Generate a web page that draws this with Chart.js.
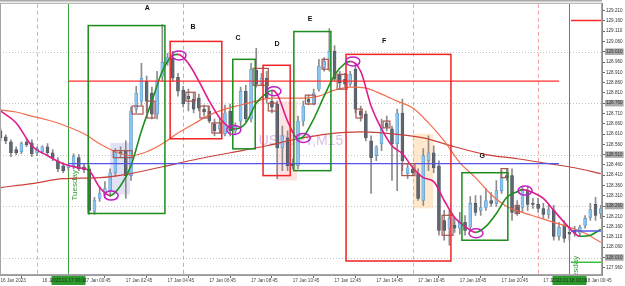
<!DOCTYPE html>
<html>
<head>
<meta charset="utf-8">
<script src="https://cdn.jsdelivr.net/npm/chart.js@4.4.0/dist/chart.umd.min.js"></script>
<style>
  html, body { margin: 0; padding: 0; background: #fff; }
</style>
</head>
<body>
<canvas id="usdjpy" width="625" height="286"></canvas>
<script>
// M15 bars, bar 0 = 2023.01.17 00:00, first visible bar = 16 Jan 20:45
const firstBar = -13;

const opens = [
  128.625, 128.596, 128.572, 128.534, 128.524, 128.572, 128.567, 128.519, 128.524, 128.548,
  128.519, 128.480, 128.456, 128.446, 128.456, 128.495, 128.451, 128.441, 128.234, 128.297,
  128.316, 128.335, 128.422, 128.524, 128.529, 128.408, 128.731, 128.770, 128.867, 128.809,
  128.707, 128.891, 128.958, 128.978, 128.886, 128.823, 128.794, 128.780, 128.785, 128.731,
  128.722, 128.659, 128.635, 128.611, 128.722, 128.625, 128.673, 128.818, 128.683, 128.920,
  128.857, 128.881, 128.770, 128.756, 128.543, 128.591, 128.466, 128.456, 128.673, 128.780,
  128.760, 128.828, 128.934, 128.925, 129.012, 128.896, 128.876, 128.852, 128.925, 128.722,
  128.707, 128.577, 128.505, 128.563, 128.664, 128.635, 128.563, 128.712, 128.418, 128.441,
  128.418, 128.287, 128.480, 128.519, 128.456, 128.190, 128.152, 128.166, 128.152, 128.181,
  128.157, 128.273, 128.239, 128.253, 128.287, 128.273, 128.335, 128.408, 128.408, 128.258,
  128.253, 128.335, 128.273, 128.268, 128.248, 128.219, 128.239, 128.113, 128.166, 128.132,
  128.142, 128.128, 128.166, 128.205, 128.268, 128.224
];
const highs = [
  128.639, 128.606, 128.582, 128.548, 128.572, 128.587, 128.582, 128.548, 128.553, 128.563,
  128.534, 128.495, 128.471, 128.461, 128.514, 128.510, 128.466, 128.456, 128.302, 128.355,
  128.379, 128.441, 128.539, 128.548, 128.577, 128.741, 128.842, 128.953, 128.891, 128.838,
  128.915, 129.142, 129.002, 129.012, 128.905, 128.842, 128.828, 128.809, 128.804, 128.751,
  128.746, 128.683, 128.683, 128.751, 128.756, 128.664, 128.838, 128.847, 128.953, 129.026,
  128.905, 128.915, 128.818, 128.770, 128.649, 128.625, 128.490, 128.697, 128.770, 128.799,
  128.828, 128.973, 128.982, 129.122, 129.040, 128.915, 128.905, 128.915, 128.953, 128.746,
  128.722, 128.601, 128.553, 128.683, 128.697, 128.649, 128.731, 128.780, 128.466, 128.456,
  128.441, 128.539, 128.601, 128.553, 128.480, 128.239, 128.239, 128.200, 128.229, 128.214,
  128.306, 128.311, 128.311, 128.345, 128.326, 128.384, 128.432, 128.441, 128.441, 128.287,
  128.355, 128.355, 128.297, 128.297, 128.273, 128.263, 128.263, 128.181, 128.190, 128.152,
  128.161, 128.166, 128.214, 128.273, 128.302, 128.263
];
const lows = [
  128.577, 128.563, 128.500, 128.510, 128.514, 128.548, 128.500, 128.505, 128.514, 128.505,
  128.480, 128.427, 128.422, 128.432, 128.441, 128.432, 128.422, 128.219, 128.219, 128.282,
  128.302, 128.306, 128.403, 128.495, 128.297, 128.384, 128.712, 128.751, 128.712, 128.683,
  128.683, 128.867, 128.944, 128.867, 128.794, 128.741, 128.722, 128.712, 128.722, 128.697,
  128.664, 128.601, 128.615, 128.601, 128.601, 128.606, 128.644, 128.669, 128.669, 128.838,
  128.847, 128.760, 128.712, 128.393, 128.432, 128.432, 128.441, 128.441, 128.649, 128.751,
  128.751, 128.818, 128.915, 128.915, 128.867, 128.828, 128.838, 128.842, 128.712, 128.673,
  128.577, 128.321, 128.480, 128.529, 128.625, 128.384, 128.335, 128.432, 128.393, 128.408,
  128.287, 128.263, 128.432, 128.422, 128.118, 128.094, 128.070, 128.132, 128.123, 128.118,
  128.142, 128.214, 128.214, 128.239, 128.258, 128.258, 128.321, 128.384, 128.190, 128.214,
  128.229, 128.239, 128.248, 128.229, 128.200, 128.200, 128.094, 128.094, 128.084, 128.094,
  128.113, 128.113, 128.152, 128.190, 128.190, 128.200
];
const closes = [
  128.591, 128.577, 128.519, 128.519, 128.563, 128.558, 128.514, 128.539, 128.548, 128.519,
  128.495, 128.441, 128.432, 128.456, 128.500, 128.441, 128.437, 128.239, 128.287, 128.321,
  128.345, 128.422, 128.519, 128.514, 128.408, 128.722, 128.809, 128.881, 128.770, 128.707,
  128.867, 128.958, 128.982, 128.881, 128.818, 128.756, 128.780, 128.731, 128.736, 128.717,
  128.673, 128.625, 128.654, 128.712, 128.625, 128.649, 128.818, 128.683, 128.925, 128.852,
  128.881, 128.784, 128.741, 128.543, 128.601, 128.456, 128.456, 128.673, 128.746, 128.765,
  128.809, 128.939, 128.963, 129.012, 128.876, 128.857, 128.852, 128.900, 128.731, 128.702,
  128.591, 128.495, 128.548, 128.649, 128.644, 128.563, 128.712, 128.480, 128.446, 128.422,
  128.297, 128.505, 128.519, 128.446, 128.142, 128.142, 128.200, 128.152, 128.190, 128.142,
  128.273, 128.229, 128.253, 128.287, 128.273, 128.335, 128.398, 128.398, 128.229, 128.229,
  128.335, 128.268, 128.268, 128.248, 128.219, 128.243, 128.113, 128.157, 128.103, 128.123,
  128.128, 128.157, 128.200, 128.243, 128.214, 128.248
];

// moving averages at these bars
const fastBars = [-13, -10, -7, -4, -1, 2, 4, 6, 8, 10, 12, 14, 16, 18, 20, 21, 23, 25, 27, 29,
  31, 32, 34, 36, 38, 39, 40, 42, 44, 45, 47, 49, 51, 53, 54, 56, 58, 60, 62, 64,
  66, 68, 70, 72, 74, 76, 78, 80, 82, 84, 86, 87, 89, 91, 93, 95, 97, 98, 100, 102];
const fastMA = [128.722, 128.664, 128.553, 128.505, 128.466, 128.446, 128.432, 128.350, 128.311, 128.359,
  128.456, 128.625, 128.770, 128.915, 128.992, 128.997, 128.953, 128.867, 128.770, 128.688,
  128.640, 128.635, 128.664, 128.760, 128.809, 128.823, 128.804, 128.673, 128.587, 128.596,
  128.683, 128.794, 128.896, 128.953, 128.963, 128.915, 128.746, 128.635, 128.553, 128.514,
  128.446, 128.398, 128.379, 128.287, 128.205, 128.161, 128.132, 128.161, 128.224, 128.302,
  128.330, 128.340, 128.326, 128.297, 128.239, 128.181, 128.128, 128.113, 128.118, 128.147];

const midBars = [-13, -10, -7, -4, -1, 3, 6, 9, 12, 15, 18, 21, 24, 27, 30, 33, 36, 39, 42, 45,
  48, 51, 54, 57, 60, 63, 66, 69, 72, 75, 78, 81, 84, 87, 90, 93, 96, 99, 102];
const midMA = [128.727, 128.717, 128.697, 128.678, 128.654, 128.611, 128.563, 128.524, 128.505, 128.524,
  128.563, 128.615, 128.659, 128.702, 128.731, 128.751, 128.770, 128.784, 128.784, 128.784,
  128.794, 128.823, 128.838, 128.833, 128.804, 128.770, 128.736, 128.664, 128.577, 128.471,
  128.398, 128.316, 128.258, 128.229, 128.205, 128.181, 128.157, 128.128, 128.084];

const slowBars = [-13, -7, -1, 6, 12, 18, 25, 31, 38, 44, 50, 56, 62, 68, 74, 80, 86, 92, 97, 102];
const slowMA = [128.350, 128.369, 128.393, 128.398, 128.418, 128.451, 128.490, 128.519, 128.553, 128.587,
  128.611, 128.620, 128.611, 128.591, 128.548, 128.510, 128.490, 128.466, 128.446, 128.418];

const priceTicks = [127.960, 128.010, 128.060, 128.110, 128.160, 128.210, 128.260, 128.310, 128.360,
  128.410, 128.460, 128.510, 128.560, 128.610, 128.660, 128.710, 128.760, 128.810, 128.860,
  128.910, 128.960, 129.010, 129.060, 129.110, 129.160, 129.210];
const markedTicks = [128.010, 128.260, 128.510, 128.760, 129.010];

const timeTickBars = [-13, -5, 3, 11, 19, 27, 35, 43, 51, 59, 67, 75, 83, 91, 99];
const timeTickLabels = ['16 Jan 2023', '16 Jan 22:45', '17 Jan 00:45', '17 Jan 02:45', '17 Jan 04:45',
  '17 Jan 06:45', '17 Jan 08:45', '17 Jan 10:45', '17 Jan 12:45', '17 Jan 14:45', '17 Jan 16:45',
  '17 Jan 18:45', '17 Jan 20:45', '17 Jan 22:45', '18 Jan 00:45'];

// drawn objects, in bar / price units
const zones = [
  { name: 'A', kind: 'up', from: 3.8, to: 18.5, top: 129.137, bottom: 128.224, labelBar: 15.1, labelPrice: 129.224 },
  { name: 'B', kind: 'down', from: 19.5, to: 29.4, top: 129.060, bottom: 128.587, labelBar: 23.9, labelPrice: 129.132 },
  { name: 'C', kind: 'up', from: 31.5, to: 35.8, top: 128.973, bottom: 128.538, labelBar: 32.5, labelPrice: 129.074 },
  { name: 'D', kind: 'down', from: 37.3, to: 42.5, top: 128.944, bottom: 128.408, labelBar: 40.0, labelPrice: 129.045 },
  { name: 'E', kind: 'up', from: 43.2, to: 50.3, top: 129.108, bottom: 128.432, labelBar: 46.3, labelPrice: 129.171 },
  { name: 'F', kind: 'down', from: 53.2, to: 73.3, top: 128.997, bottom: 127.993, labelBar: 60.5, labelPrice: 129.060 },
  { name: 'G', kind: 'up', from: 75.4, to: 84.2, top: 128.422, bottom: 128.094, labelBar: 79.3, labelPrice: 128.504 }
];
const shades = [
  { kind: 'lavender', from: 8.0, to: 11.8, top: 128.567, bottom: 128.316 },
  { kind: 'pink', from: 40.0, to: 43.8, top: 128.770, bottom: 128.384 },
  { kind: 'orange', from: 66.0, to: 69.9, top: 128.611, bottom: 128.249 }
];
const marks = [
  [8.6, 12.2, 128.529, 128.495], [12.2, 14.3, 128.746, 128.707], [15.1, 16.6, 128.770, 128.688],
  [22.5, 24.3, 128.813, 128.770], [25.2, 26.8, 128.746, 128.688], [27.5, 29.2, 128.664, 128.615],
  [35.4, 38.3, 128.929, 128.847], [38.3, 40.0, 128.760, 128.722], [45.4, 47.3, 128.799, 128.756],
  [48.6, 49.8, 128.973, 128.925], [51.5, 53.4, 128.900, 128.828], [55.1, 56.3, 128.731, 128.688],
  [60.3, 61.6, 128.673, 128.640], [63.9, 66.4, 128.466, 128.408], [71.6, 73.7, 128.215, 128.118],
  [82.9, 84.2, 128.442, 128.398], [85.6, 86.4, 128.263, 128.224]
];
const turns = [
  [8.2, 128.311], [21.2, 128.992], [31.7, 128.630], [39.4, 128.818],
  [45.0, 128.591], [54.5, 128.963], [78.1, 128.128], [87.5, 128.335]
];
const levels = [
  { kind: 'red', price: 128.867, from: 0, to: 94 },
  { kind: 'blue', price: 128.466, from: 0, to: 94 },
  { kind: 'red', price: 129.162, from: 96.3, to: 103 },
  { kind: 'blue', price: 128.139, from: 96.3, to: 103 },
  { kind: 'green', price: 127.987, from: 96.3, to: 103 }
];
const sessionBars = [-6, 22, 66, 90];
const sessionKinds = ['pink', 'gray', 'pink', 'pink'];
const dayBars = [0, 96];
const dayNames = ['Tuesday', 'Wednesday'];
const dayNamePrices = [128.287, 127.814];
const dayStamps = ['2023.01.17 00:00', '2023.01.18 00:00'];

const FONT = '"Liberation Sans", Arial, sans-serif';
const lineColors = { red: '#ff2b2b', blue: '#5454ea', green: '#3cc03c' };
const shadeColors = { lavender: 'rgba(190,190,235,0.45)', pink: 'rgba(255,200,200,0.5)', orange: 'rgba(255,214,160,0.55)' };

const bars = opens.map((o, k) => firstBar + k);
const isUp = opens.map((o, k) => closes[k] >= o);

function sameTick(v, list) {
  return list.some(t => Math.abs(t - v) < 1e-6);
}

const overlay = {
  id: 'overlay',
  beforeDatasetsDraw(chart) {
    const { ctx, chartArea: a, scales: { x, y } } = chart;
    ctx.save();
    ctx.beginPath();
    ctx.rect(a.left, a.top, a.width, a.height);
    ctx.clip();

    ctx.fillStyle = 'rgba(208,166,222,0.75)';
    ctx.font = '14px ' + FONT;
    ctx.textAlign = 'center';
    ctx.textBaseline = 'middle';
    ctx.fillText('USDJPY,M15', (a.left + a.right) / 2, (a.top + a.bottom) / 2 + 2);

    ctx.strokeStyle = '#c4c4c4';
    ctx.lineWidth = 1;
    ctx.setLineDash([1, 2]);
    markedTicks.forEach(p => {
      const py = Math.round(y.getPixelForValue(p)) + 0.5;
      ctx.beginPath(); ctx.moveTo(a.left, py); ctx.lineTo(a.right, py); ctx.stroke();
    });

    ctx.setLineDash([]);
    shades.forEach(s => {
      const x0 = x.getPixelForValue(s.from), x1 = x.getPixelForValue(s.to);
      const y0 = y.getPixelForValue(s.top), y1 = y.getPixelForValue(s.bottom);
      ctx.fillStyle = shadeColors[s.kind];
      ctx.fillRect(x0, y0, x1 - x0, y1 - y0);
    });

    ctx.setLineDash([4, 3]);
    sessionBars.forEach((b, k) => {
      const px = Math.round(x.getPixelForValue(b)) + 0.5;
      ctx.strokeStyle = sessionKinds[k] === 'pink' ? '#f5a3a3' : '#b4b4b4';
      ctx.beginPath(); ctx.moveTo(px, a.top); ctx.lineTo(px, a.bottom); ctx.stroke();
    });

    ctx.setLineDash([]);
    ctx.strokeStyle = '#3da23d';
    dayBars.forEach((b, k) => {
      const px = Math.round(x.getPixelForValue(b)) + 0.5;
      ctx.beginPath(); ctx.moveTo(px, a.top); ctx.lineTo(px, a.bottom); ctx.stroke();
      ctx.save();
      ctx.translate(px + 6, y.getPixelForValue(dayNamePrices[k]));
      ctx.rotate(-Math.PI / 2);
      ctx.fillStyle = '#3a9a3a';
      ctx.font = '8px ' + FONT;
      ctx.textAlign = 'left';
      ctx.textBaseline = 'middle';
      ctx.fillText(dayNames[k], 0, 0);
      ctx.restore();
    });
    ctx.restore();
  },
  afterDatasetsDraw(chart) {
    const { ctx, chartArea: a, scales: { x, y } } = chart;
    ctx.save();
    ctx.beginPath();
    ctx.rect(a.left, a.top, a.width, a.height);
    ctx.clip();

    levels.forEach(l => {
      const py = y.getPixelForValue(l.price);
      ctx.strokeStyle = lineColors[l.kind];
      ctx.lineWidth = 1.4;
      ctx.beginPath();
      ctx.moveTo(x.getPixelForValue(l.from), py);
      ctx.lineTo(x.getPixelForValue(l.to), py);
      ctx.stroke();
    });

    ctx.strokeStyle = '#a8554f';
    ctx.lineWidth = 1.2;
    marks.forEach(m => {
      const x0 = x.getPixelForValue(m[0]), x1 = x.getPixelForValue(m[1]);
      const y0 = y.getPixelForValue(m[2]), y1 = y.getPixelForValue(m[3]);
      ctx.strokeRect(x0, y0, x1 - x0, y1 - y0);
    });

    zones.forEach(z => {
      const x0 = x.getPixelForValue(z.from), x1 = x.getPixelForValue(z.to);
      const y0 = y.getPixelForValue(z.top), y1 = y.getPixelForValue(z.bottom);
      ctx.strokeStyle = z.kind === 'up' ? '#1c8c1c' : '#f22222';
      ctx.lineWidth = 1.5;
      ctx.strokeRect(x0, y0, x1 - x0, y1 - y0);
      ctx.fillStyle = '#111';
      ctx.font = 'bold 7px ' + FONT;
      ctx.textAlign = 'center';
      ctx.textBaseline = 'middle';
      ctx.fillText(z.name, x.getPixelForValue(z.labelBar), y.getPixelForValue(z.labelPrice));
    });

    ctx.strokeStyle = '#c41ec4';
    ctx.lineWidth = 1.5;
    turns.forEach(t => {
      ctx.beginPath();
      ctx.ellipse(x.getPixelForValue(t[0]), y.getPixelForValue(t[1]), 7, 4.5, 0, 0, Math.PI * 2);
      ctx.stroke();
    });
    ctx.restore();
  },
  afterDraw(chart) {
    const { ctx, chartArea: a, scales: { x } } = chart;
    ctx.save();
    ctx.strokeStyle = '#a6a6a6';
    ctx.lineWidth = 1;
    ctx.strokeRect(a.left + 0.5, a.top - 0.5, a.width - 1, a.height);
    ctx.fillStyle = '#a8a8a8';
    ctx.fillRect(0, 0, a.right, 1.5);
    dayBars.forEach((b, k) => {
      const px = Math.round(x.getPixelForValue(b)) + 0.5;
      ctx.fillStyle = '#2f9a2f';
      ctx.fillRect(px - 17, a.bottom + 1, 34, 9);
      ctx.fillStyle = '#0d300d';
      ctx.font = '4.6px ' + FONT;
      ctx.textAlign = 'center';
      ctx.textBaseline = 'middle';
      ctx.fillText(dayStamps[k], px, a.bottom + 5.5);
    });
    ctx.restore();
  }
};

new Chart(document.getElementById('usdjpy'), {
  type: 'bar',
  data: {
    datasets: [
      {
        type: 'line',
        label: 'fast',
        data: fastBars.map((b, k) => ({ x: b, y: fastMA[k] })),
        borderColor: '#e01b8c',
        borderWidth: 1.6,
        pointRadius: 0,
        cubicInterpolationMode: 'monotone',
        segment: { borderColor: c => c.p1.parsed.y >= c.p0.parsed.y ? '#1f8f1f' : '#e01b8c' },
        order: 0
      },
      {
        type: 'line',
        label: 'mid',
        data: midBars.map((b, k) => ({ x: b, y: midMA[k] })),
        borderColor: '#f46d4e',
        borderWidth: 1.2,
        pointRadius: 0,
        cubicInterpolationMode: 'monotone',
        order: 1
      },
      {
        type: 'line',
        label: 'slow',
        data: slowBars.map((b, k) => ({ x: b, y: slowMA[k] })),
        borderColor: '#c9413b',
        borderWidth: 1.2,
        pointRadius: 0,
        cubicInterpolationMode: 'monotone',
        order: 1
      },
      {
        label: 'bodies',
        data: bars.map((b, k) => ({ x: b, y: [opens[k], closes[k]] })),
        backgroundColor: isUp.map(u => u ? '#88c6f2' : '#5e6771'),
        borderColor: isUp.map(u => u ? '#5b8fbd' : '#4a525c'),
        borderWidth: 0.6,
        borderSkipped: false,
        barThickness: 3,
        minBarLength: 1,
        grouped: false,
        order: 2
      },
      {
        label: 'wicks',
        data: bars.map((b, k) => ({ x: b, y: [lows[k], highs[k]] })),
        backgroundColor: '#8c8c8c',
        barThickness: 1,
        grouped: false,
        order: 3
      }
    ]
  },
  options: {
    responsive: false,
    animation: false,
    devicePixelRatio: 1,
    layout: { padding: { top: 2, left: 0, right: 0, bottom: 0 } },
    plugins: { legend: { display: false }, tooltip: { enabled: false } },
    scales: {
      x: {
        type: 'linear',
        min: -13.1,
        max: 102.24,
        offset: false,
        grid: { drawOnChartArea: false, tickLength: 3, color: '#666' },
        border: { color: '#9a9a9a' },
        afterBuildTicks: s => { s.ticks = timeTickBars.map(v => ({ value: v })); },
        afterFit: s => { s.height = 11; },
        ticks: {
          autoSkip: false,
          maxRotation: 0,
          align: 'start',
          padding: 0,
          color: '#444',
          font: { size: 4.6, family: FONT },
          callback: v => timeTickLabels[timeTickBars.indexOf(v)]
        }
      },
      y: {
        type: 'linear',
        position: 'right',
        min: 127.925,
        max: 129.243,
        grid: { drawOnChartArea: false, tickLength: 3, color: '#666' },
        border: { color: '#8a8a8a' },
        afterBuildTicks: s => { s.ticks = priceTicks.map(v => ({ value: v })); },
        afterFit: s => { s.width = 23; },
        ticks: {
          padding: 1,
          color: '#333',
          font: { size: 4.6, family: FONT },
          showLabelBackdrop: true,
          backdropPadding: { x: 1, y: 0.5 },
          backdropColor: c => sameTick(c.tick.value, markedTicks) ? '#a9a9a9' : 'rgba(0,0,0,0)',
          callback: v => v.toFixed(3)
        }
      }
    }
  },
  plugins: [overlay]
});
</script>
</body>
</html>
